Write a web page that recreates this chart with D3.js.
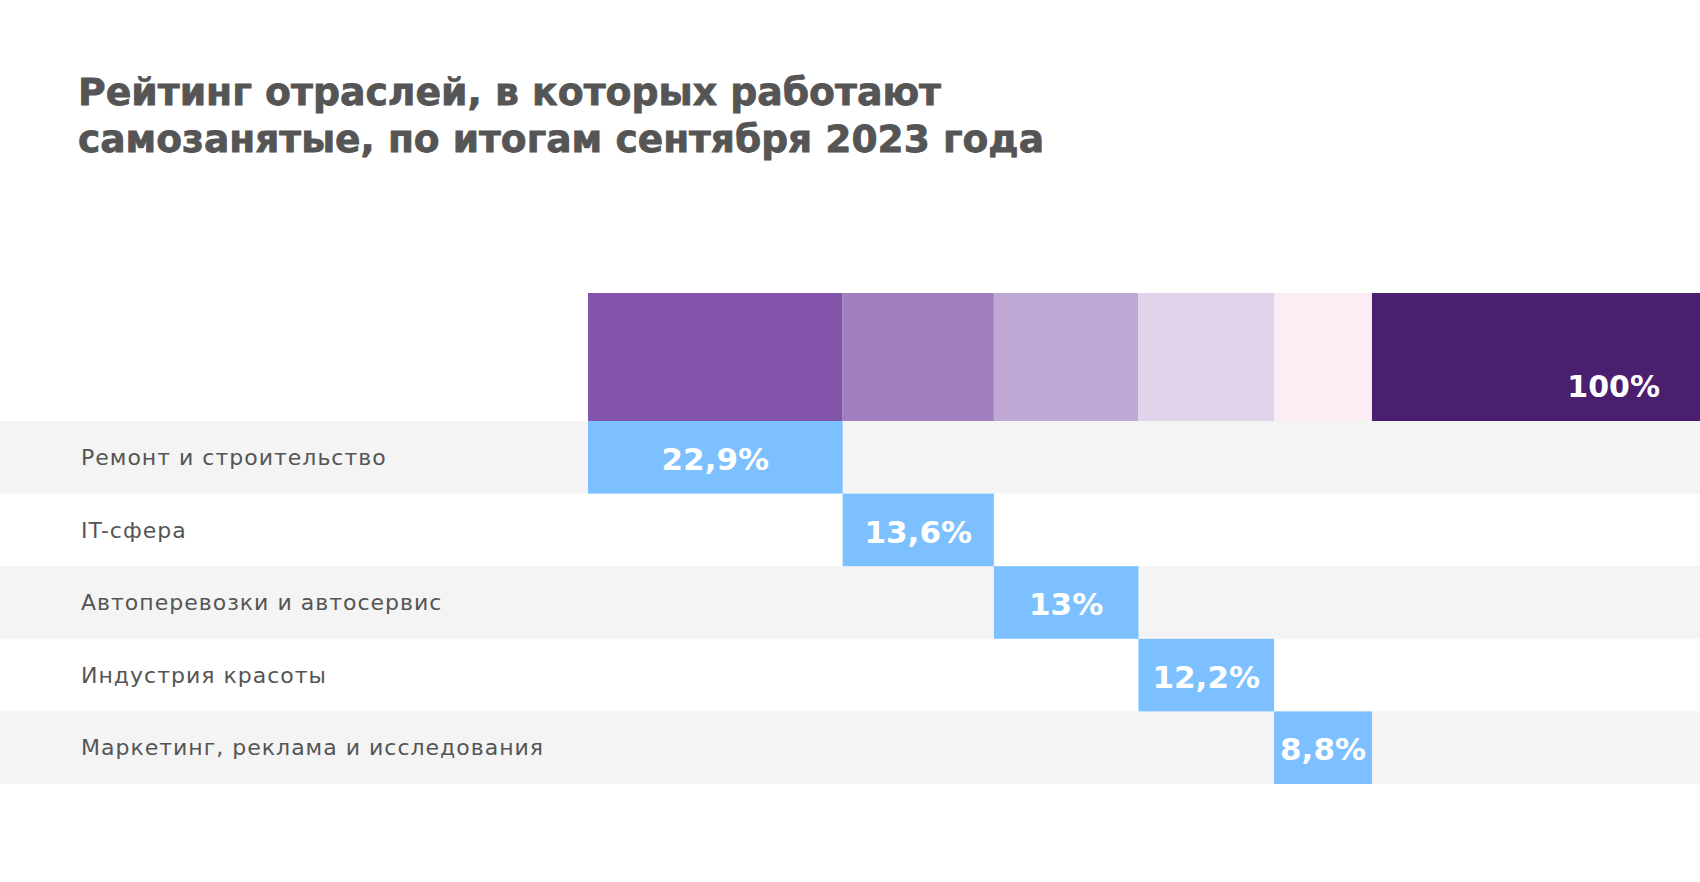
<!DOCTYPE html>
<html>
<head>
<meta charset="utf-8">
<script src="https://cdn.jsdelivr.net/npm/d3@7"></script>
<style>
  html, body { margin: 0; padding: 0; background: #fff; }
  svg { display: block; }
</style>
</head>
<body>
<svg id="chart" width="1700" height="882"></svg>
<script>
const titleLines = ["Рейтинг отраслей, в которых работают", "самозанятые, по итогам сентября 2023 года"];
const categories = ["Ремонт и строительство", "IT-сфера", "Автоперевозки и автосервис", "Индустрия красоты", "Маркетинг, реклама и исследования"];
const values = [22.9, 13.6, 13, 12.2, 8.8];
const valueLabels = ["22,9%", "13,6%", "13%", "12,2%", "8,8%"];
const totalValue = 100;
const totalLabel = "100%";
const segmentColors = ["#8255aa", "#a07fc0", "#c0a8d4", "#e1d4ea", "#fcedf4"];
const restColor = "#4b1f6f";

const W = 1700, H = 882;
const svg = d3.select("#chart");

// Title
const titleWidths = [863, 966];
const title = svg.append("g");
titleLines.forEach((t, i) => {
  title.append("text")
    .attr("x", 78).attr("y", 105 + i * 47)
    .attr("font-family", "DejaVu Sans")
    .attr("font-weight", "bold")
    .attr("font-size", 38)
    .attr("fill", "#555555")
    .attr("stroke", "#555555")
    .attr("stroke-width", 0.8)
    .attr("textLength", titleWidths[i])
    .attr("lengthAdjust", "spacingAndGlyphs")
    .text(t);
});

const x = d3.scaleLinear().domain([0, totalValue]).range([588, W]);
const y = d3.scaleBand().domain(categories).range([421, 784]).paddingInner(0).paddingOuter(0);

const starts = [0, ...d3.cumsum(values)];
const segs = values.map((v, i) => ({ cat: categories[i], v, s: starts[i], e: starts[i] + v, label: valueLabels[i], color: segmentColors[i] }));
const sumAll = starts[starts.length - 1];

// Row backgrounds
svg.append("g").selectAll("rect").data(categories).join("rect")
  .attr("x", 0).attr("width", W)
  .attr("y", d => y(d)).attr("height", y.bandwidth())
  .attr("fill", (d, i) => i % 2 === 0 ? "#f4f4f4" : "#ffffff");

// Top stacked bar
const barTop = 293, barBottom = 421;
svg.append("g").selectAll("rect").data(segs).join("rect")
  .attr("x", d => x(d.s)).attr("width", d => x(d.e) - x(d.s))
  .attr("y", barTop).attr("height", barBottom - barTop)
  .attr("fill", d => d.color);
svg.append("rect")
  .attr("x", x(sumAll)).attr("width", x(totalValue) - x(sumAll))
  .attr("y", barTop).attr("height", barBottom - barTop)
  .attr("fill", restColor);
svg.append("text")
  .attr("x", 1660).attr("y", 397)
  .attr("text-anchor", "end")
  .attr("font-family", "DejaVu Sans").attr("font-weight", "bold").attr("font-size", 30)
  .attr("fill", "#ffffff")
  .text(totalLabel);

// Blue cells
svg.append("g").selectAll("rect").data(segs).join("rect")
  .attr("x", d => x(d.s)).attr("width", d => x(d.e) - x(d.s))
  .attr("y", d => y(d.cat)).attr("height", y.bandwidth())
  .attr("fill", "#7dc0ff");
svg.append("g").selectAll("text").data(segs).join("text")
  .attr("x", d => (x(d.s) + x(d.e)) / 2)
  .attr("y", d => y(d.cat) + 49)
  .attr("text-anchor", "middle")
  .attr("font-family", "DejaVu Sans").attr("font-weight", "bold").attr("font-size", 31)
  .attr("fill", "#ffffff")
  .text(d => d.label);

// Row labels
svg.append("g").selectAll("text").data(categories).join("text")
  .attr("x", 81).attr("y", d => y(d) + 44)
  .attr("font-family", "DejaVu Sans").attr("font-size", 22)
  .attr("letter-spacing", 1.0)
  .attr("fill", "#555555")
  .text(d => d);
</script>
</body>
</html>
